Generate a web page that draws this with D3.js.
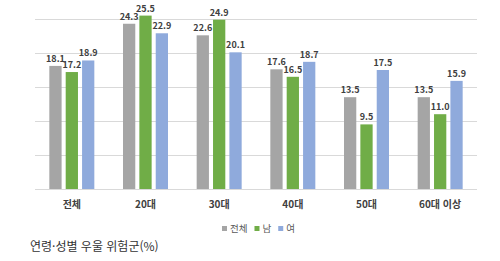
<!DOCTYPE html>
<html lang="ko">
  <head>
    <meta charset="UTF-8" />
    <title>연령·성별 우울 위험군</title>
    <style>
      body { margin: 0; background: #fff; }
      svg { display: block; font-family: "Noto Sans CJK KR", "Noto Sans", sans-serif; }
    </style>
  </head>
  <body>
    <svg id="svg" width="500" height="261"></svg>

    <script src="https://cdn.jsdelivr.net/npm/d3@7"></script>
    <script>
      const WIDTH = 500;
      const HEIGHT = 261;

      const CATEGORIES = ["전체", "20대", "30대", "40대", "50대", "60대 이상"];
      const SERIES = ["전체", "남", "여"];
      const TOTAL = [18.1, 24.3, 22.6, 17.6, 13.5, 13.5];
      const MALE = [17.2, 25.5, 24.9, 16.5, 9.5, 11.0];
      const FEMALE = [18.9, 22.9, 20.1, 18.7, 17.5, 15.9];
      const Y_TICKS = [0, 5, 10, 15, 20, 25];
      const COLORS = ["#a5a5a5", "#70ad47", "#8faadc"];

      const plot = { left: 35, right: 477, top: 19, bottom: 189 };

      const seriesValues = [TOTAL, MALE, FEMALE];
      const rows = CATEGORIES.map((cat, i) => ({
        cat,
        values: SERIES.map((s, j) => ({ series: s, value: seriesValues[j][i] })),
      }));

      const x0 = d3.scaleBand().domain(CATEGORIES).range([plot.left, plot.right]).padding(0);
      const groupWidth = 45;
      const groupOffset = (x0.bandwidth() - groupWidth) / 2;
      const x1 = d3.scaleBand().domain(SERIES).range([0, groupWidth]).paddingInner(0.25);
      const y = d3.scaleLinear().domain([0, 25]).range([plot.bottom, plot.top]);
      const color = d3.scaleOrdinal().domain(SERIES).range(COLORS);

      const svg = d3.select("#svg");

      // gridlines
      const yAxis = d3.axisLeft(y).tickValues(Y_TICKS).tickSize(-(plot.right - plot.left)).tickFormat("");
      const grid = svg.append("g").attr("transform", `translate(${plot.left},0)`).call(yAxis);
      grid.select(".domain").remove();
      grid.selectAll(".tick line").attr("stroke", "#d9d9d9").attr("stroke-width", 1);

      // bars
      const groups = svg
        .selectAll("g.grp")
        .data(rows)
        .join("g")
        .attr("class", "grp")
        .attr("transform", (d) => `translate(${x0(d.cat) + groupOffset},0)`);

      groups
        .selectAll("rect")
        .data((d) => d.values)
        .join("rect")
        .attr("x", (d) => x1(d.series))
        .attr("y", (d) => y(d.value))
        .attr("width", x1.bandwidth())
        .attr("height", (d) => y(0) - y(d.value))
        .attr("fill", (d) => color(d.series));

      groups
        .selectAll("text")
        .data((d) => d.values)
        .join("text")
        .attr("x", (d) => x1(d.series) + x1.bandwidth() / 2)
        .attr("y", (d) => y(d.value) - 4)
        .attr("text-anchor", "middle")
        .attr("font-size", 9)
        .attr("font-weight", "bold")
        .attr("fill", "#404040")
        .text((d) => d.value.toFixed(1));

      // category axis
      const xAxis = d3.axisBottom(x0).tickSize(0).tickPadding(12);
      const xg = svg.append("g").attr("transform", `translate(0,${plot.bottom})`).call(xAxis);
      xg.select(".domain").remove();
      xg.selectAll("text")
        .attr("font-size", 10)
        .attr("font-weight", "bold")
        .attr("fill", "#404040")
        .attr("font-family", "'Noto Sans CJK KR', sans-serif");

      // legend
      const legend = svg.append("g").attr("transform", "translate(222,229)");
      let lx = 0;
      SERIES.forEach((s) => {
        const item = legend.append("g").attr("transform", `translate(${lx},0)`);
        item.append("rect").attr("x", 0).attr("y", -3).attr("width", 5).attr("height", 5).attr("fill", color(s));
        const t = item
          .append("text")
          .attr("x", 8)
          .attr("y", 0)
          .attr("dy", "0.35em")
          .attr("font-size", 9.5)
          .attr("fill", "#595959")
          .text(s);
        lx += 8 + t.node().getComputedTextLength() + 7;
      });

      // title
      svg
        .append("text")
        .attr("x", 30)
        .attr("y", 247)
        .attr("dy", "0.35em")
        .attr("font-size", 12)
        .attr("fill", "#333")
        .text("연령·성별 우울 위험군(%)");
    </script>
  </body>
</html>
